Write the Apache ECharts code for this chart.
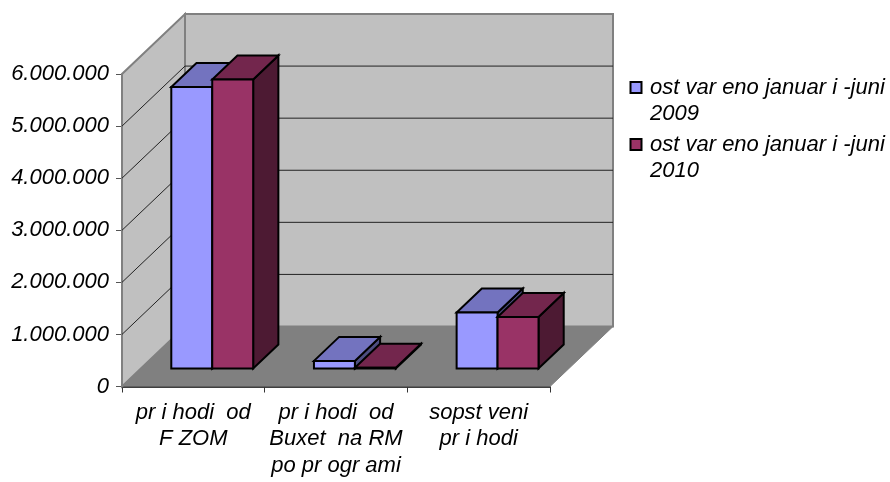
<!DOCTYPE html>
<html>
<head>
<meta charset="utf-8">
<style>html,body{margin:0;padding:0;background:#fff}#c{width:890px;height:482px}</style>
<script src="https://cdn.jsdelivr.net/npm/echarts@6/dist/echarts.min.js"></script>
</head>
<body>
<div id="c"></div>
<script>
const categories = ['pr i hodi  od\nF ZOM', 'pr i hodi  od\nBuxet  na RM\npo pr ogr ami', 'sopst veni\npr i hodi'];
const seriesNames = ['ost var eno januar i -juni\n2009', 'ost var eno januar i -juni\n2010'];
const values2009 = [5405000, 146000, 1075000];
const values2010 = [5550000, 15000, 990000];
const yTicks = [0, 1000000, 2000000, 3000000, 4000000, 5000000, 6000000];
const faceColors = [
  { front: '#9999FF', top: '#7373BF', side: '#4D4D80' },
  { front: '#993366', top: '#73264D', side: '#4D1A33' }
];
const FONT = '"Liberation Sans", Arial, sans-serif';
const WALL_DX = 63, WALL_DY = -60;       // depth of the 3D box in pixels
const BAR_DEPTH_START = 0.30, BAR_DEPTH = 0.4, BAR_BAND = 0.287;

const chart = echarts.init(document.getElementById('c'), null, { renderer: 'canvas' });

function poly(points, fill, stroke, lw) {
  return { type: 'polygon', shape: { points },
    style: { fill: fill, stroke: stroke || 'none', lineWidth: lw || 0, lineJoin: 'miter' } };
}
function line(a, b, stroke, lw) {
  return { type: 'line', shape: { x1: a[0], y1: a[1], x2: b[0], y2: b[1] },
    style: { stroke, lineWidth: lw } };
}

function renderWalls(params, api) {
  const n = categories.length;
  const band = api.size([1, 0])[0];
  const xL = api.coord([0, 0])[0] - band / 2;
  const xR = api.coord([n - 1, 0])[0] + band / 2;
  const yAt = v => api.coord([0, v])[1];
  const y0 = yAt(0), yT = yAt(6000000);
  const children = [];
  const B = (x, y) => [x + WALL_DX, y + WALL_DY];
  // side wall and back wall
  children.push(poly([[xL, y0], [xL, yT], B(xL, yT), B(xL, y0)], '#C0C0C0', '#808080', 2));
  children.push(poly([B(xL, y0), B(xL, yT), B(xR, yT), B(xR, y0)], '#C0C0C0', '#808080', 2));
  // grid lines
  yTicks.slice(1, -1).forEach(v => {
    const y = yAt(v);
    children.push(line([xL, y], B(xL, y), '#222', 1));
    children.push(line(B(xL, y), B(xR, y), '#222', 1));
  });
  // floor
  children.push(poly([[xL, y0], [xR, y0], B(xR, y0), B(xL, y0)], '#808080'));
  children.push(line([xR, y0], B(xR, y0), '#808080', 1));
  return { type: 'group', children };
}

function barRenderer(serieIdx) {
  return function (params, api) {
    const i = api.value(0), v = api.value(1);
    const base = api.coord([i, 0]);
    const tip = api.coord([i, v]);
    const band = api.size([1, 0])[0];
    const w = band * BAR_BAND;
    const sx = WALL_DX * BAR_DEPTH_START, sy = WALL_DY * BAR_DEPTH_START;
    const dx = WALL_DX * BAR_DEPTH, dy = WALL_DY * BAR_DEPTH;
    const x1 = base[0] + sx + (serieIdx - 1) * w, x2 = x1 + w;
    const yb = base[1] + sy, yt = tip[1] + sy;
    const c = faceColors[serieIdx], k = '#000', lw = 2;
    return { type: 'group', children: [
      poly([[x2, yb], [x2, yt], [x2 + dx, yt + dy], [x2 + dx, yb + dy]], c.side, k, lw),
      poly([[x1, yt], [x2, yt], [x2 + dx, yt + dy], [x1 + dx, yt + dy]], c.top, k, lw),
      poly([[x1, yb], [x1, yt], [x2, yt], [x2, yb]], c.front, k, lw)
    ] };
  };
}

function legendGraphics() {
  const tops = [81, 138];
  const out = [];
  seriesNames.forEach((name, i) => {
    out.push({ type: 'rect', left: 629.5, top: tops[i],
      shape: { width: 11, height: 11 },
      style: { fill: faceColors[i].front, stroke: '#000', lineWidth: 2 } });
    out.push({ type: 'text', left: 650, top: tops[i] - 6,
      style: { text: name, fill: '#000', font: 'italic 22px ' + FONT, lineHeight: 26 } });
  });
  return out;
}

chart.setOption({
  animation: false,
  backgroundColor: '#fff',
  grid: { left: 122, top: 74, width: 428, height: 312.5, containLabel: false },
  xAxis: {
    type: 'category', data: categories, boundaryGap: true,
    axisLine: { show: true, lineStyle: { color: '#000', width: 1.5 } },
    axisTick: { show: true, alignWithLabel: false, length: 6, lineStyle: { color: '#333', width: 1 } },
    axisLabel: { interval: 0, color: '#000', fontFamily: FONT, fontStyle: 'italic', fontSize: 22, lineHeight: 26.5, margin: 13 },
    splitLine: { show: false }
  },
  yAxis: {
    type: 'value', min: 0, max: 6000000, interval: 1000000,
    axisLine: { show: true, lineStyle: { color: '#808080', width: 1.5 } },
    axisTick: { show: true, length: 6, lineStyle: { color: '#555', width: 1 } },
    axisLabel: { color: '#000', fontFamily: FONT, fontStyle: 'italic', fontSize: 22, margin: 13, padding: [3, 0, 0, 0],
      formatter: v => String(v).replace(/\B(?=(\d{3})+$)/g, '.') },
    splitLine: { show: false }
  },
  series: [
    { type: 'custom', name: 'walls', silent: true, z: 1, data: [[0, 0]], renderItem: renderWalls },
    { type: 'custom', name: seriesNames[0], silent: true, z: 2, renderItem: barRenderer(0),
      encode: { x: 0, y: 1 }, data: values2009.map((v, i) => [i, v]) },
    { type: 'custom', name: seriesNames[1], silent: true, z: 3, renderItem: barRenderer(1),
      encode: { x: 0, y: 1 }, data: values2010.map((v, i) => [i, v]) }
  ],
  graphic: legendGraphics()
});
</script>
</body>
</html>
